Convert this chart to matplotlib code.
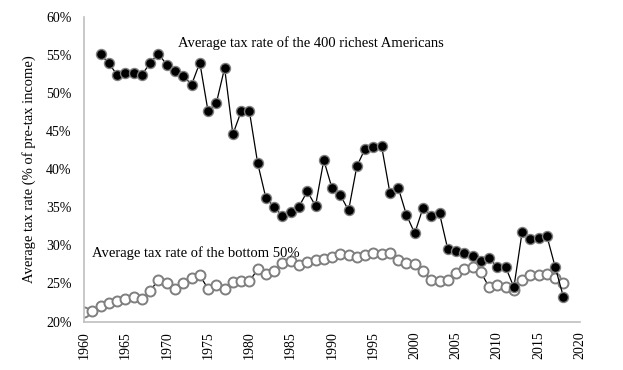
import matplotlib
matplotlib.use("Agg")
import matplotlib.pyplot as plt
from matplotlib.ticker import FuncFormatter

plt.rcParams["font.family"] = ["Liberation Serif", "DejaVu Serif"]

years_top = list(range(1962, 2019))
top400 = [
    55.1, 53.9, 52.4, 52.6, 52.6, 52.4, 54.0, 55.2, 53.7, 52.9,
    52.3, 51.1, 54.0, 47.6, 48.7, 53.3, 44.6, 47.6, 47.6, 40.8,
    36.2, 35.1, 33.8, 34.4, 35.1, 37.1, 35.2, 41.2, 37.5, 36.6,
    34.6, 40.4, 42.7, 42.9, 43.0, 36.9, 37.6, 34.0, 31.6, 34.9,
    33.8, 34.2, 29.5, 29.2, 29.0, 28.6, 28.0, 28.3, 27.15, 27.15,
    24.5, 31.8, 30.85, 31.0, 31.2, 27.15, 23.2,
]

years_bottom = list(range(1960, 2019))
bottom50 = [
    21.2, 21.4, 22.05, 22.4, 22.65, 22.9, 23.2, 22.9, 24.05, 25.5,
    25.05, 24.3, 25.05, 25.75, 26.05, 24.3, 24.85, 24.3, 25.2, 25.3,
    25.3, 26.85, 26.2, 26.6, 27.7, 28.0, 27.45, 27.8, 28.1, 28.2,
    28.5, 28.9, 28.7, 28.5, 28.7, 29.0, 28.85, 29.0, 28.1, 27.7,
    27.5, 26.7, 25.4, 25.3, 25.5, 26.4, 26.9, 27.1, 26.5, 24.5,
    24.8, 24.6, 24.2, 25.4, 26.05, 26.1, 26.3, 25.7, 25.1,
]

fig = plt.figure(figsize=(6.23, 3.70), dpi=100)
ax = fig.add_axes([0.135, 0.131, 0.796, 0.823])

ax.plot(years_bottom, bottom50, color="black", lw=0.9, marker="o", ms=7.2,
        mfc="white", mec="#7f7f7f", mew=1.4, zorder=2)
ax.plot(years_top, top400, color="black", lw=0.9, marker="o", ms=7.2,
        mfc="black", mec="#7f7f7f", mew=1.0, zorder=3)

ax.text(1971.3, 56.6, "Average tax rate of the 400 richest Americans",
        fontsize=10.5, va="center", ha="left")
ax.text(1960.9, 29.0, "Average tax rate of the bottom 50%",
        fontsize=10.5, va="center", ha="left")

ax.set_xlim(1960, 2020)
ax.set_ylim(20, 60)
ax.set_xticks(range(1960, 2021, 5))
ax.set_yticks(range(20, 61, 5))
ax.yaxis.set_major_formatter(FuncFormatter(lambda v, p: f"{int(v)}%"))
ax.tick_params(axis="x", rotation=90, length=0, labelsize=10, pad=7)
ax.tick_params(axis="y", length=0, labelsize=10, pad=9)
ax.set_ylabel("Average tax rate (% of pre-tax income)", fontsize=10.5, labelpad=7)

for s in ["top", "right"]:
    ax.spines[s].set_visible(False)
for s in ["left", "bottom"]:
    ax.spines[s].set_color("#bfbfbf")
    ax.spines[s].set_linewidth(1.2)

fig.savefig("out.png", dpi=100)
